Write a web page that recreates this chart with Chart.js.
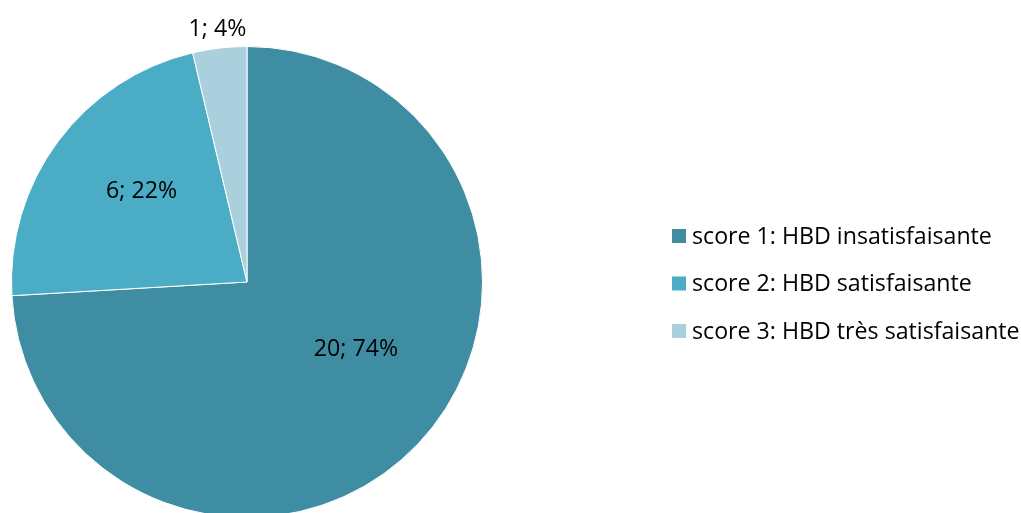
<!DOCTYPE html>
<html>
<head>
<meta charset="utf-8">
<script src="https://cdn.jsdelivr.net/npm/chart.js@4"></script>
<style>
html,body{margin:0;padding:0;background:#fff;overflow:hidden;}
#wrap{position:relative;width:1021px;height:530px;}
</style>
</head>
<body>
<div id="wrap"><canvas id="c"></canvas></div>
<script>
const categories = ["score 1: HBD insatisfaisante", "score 2: HBD satisfaisante", "score 3: HBD très satisfaisante"];
const values = [20, 6, 1];
const colors = ["#3E8DA3", "#4BACC6", "#A9D0DC"];
const labelRadiusFactors = [0.545, 0.59, 1.08];
const labelAngleFractions = [0.457, 0.55, 0.5];

const total = values.reduce((a,b)=>a+b,0);
const FONT = "'Open Sans', sans-serif";
let fontSize = 20;

function fitFont(ctx) {
  ctx.save();
  ctx.font = "20px " + FONT;
  const w = ctx.measureText(categories[0]).width;
  ctx.restore();
  fontSize = 20 * 300 / w;
}

const labelPlugin = {
  id: 'sliceLabels',
  afterDatasetsDraw(chart) {
    const ctx = chart.ctx;
    fitFont(ctx);
    const meta = chart.getDatasetMeta(0);
    ctx.save();
    ctx.font = fontSize.toFixed(2) + "px " + FONT;
    ctx.fillStyle = "#000";
    ctx.textAlign = "center";
    ctx.textBaseline = "middle";
    meta.data.forEach((arc, i) => {
      const p = arc.getProps(['x','y','startAngle','endAngle','outerRadius'], true);
      const a = p.startAngle + (p.endAngle - p.startAngle) * labelAngleFractions[i];
      const r = p.outerRadius * labelRadiusFactors[i];
      const x = p.x + Math.cos(a) * r;
      const y = p.y + Math.sin(a) * r;
      const pct = Math.round(values[i] / total * 100);
      ctx.fillText(values[i] + "; " + pct + "%", x, y);
    });
    ctx.restore();
  }
};

const legendPlugin = {
  id: 'customLegend',
  afterDraw(chart) {
    const ctx = chart.ctx;
    ctx.save();
    ctx.font = fontSize.toFixed(2) + "px " + FONT;
    ctx.textAlign = "left";
    ctx.textBaseline = "middle";
    const x0 = 672, y0 = 236, gap = 47.5, box = 14;
    categories.forEach((c, i) => {
      const y = y0 + i * gap;
      ctx.fillStyle = colors[i];
      ctx.fillRect(x0, y - box/2, box, box);
      ctx.fillStyle = "#000";
      ctx.fillText(c, x0 + 20, y + 1);
    });
    ctx.restore();
  }
};

new Chart(document.getElementById('c'), {
  type: 'pie',
  data: {
    labels: categories,
    datasets: [{
      data: values,
      backgroundColor: colors,
      borderColor: "#ffffff",
      borderWidth: 1
    }]
  },
  options: {
    responsive: true,
    maintainAspectRatio: false,
    animation: false,
    layout: { padding: { top: 46, bottom: 12, left: 11, right: 538 } },
    plugins: { legend: { display: false }, tooltip: { enabled: false } }
  },
  plugins: [labelPlugin, legendPlugin]
});
</script>
</body>
</html>
